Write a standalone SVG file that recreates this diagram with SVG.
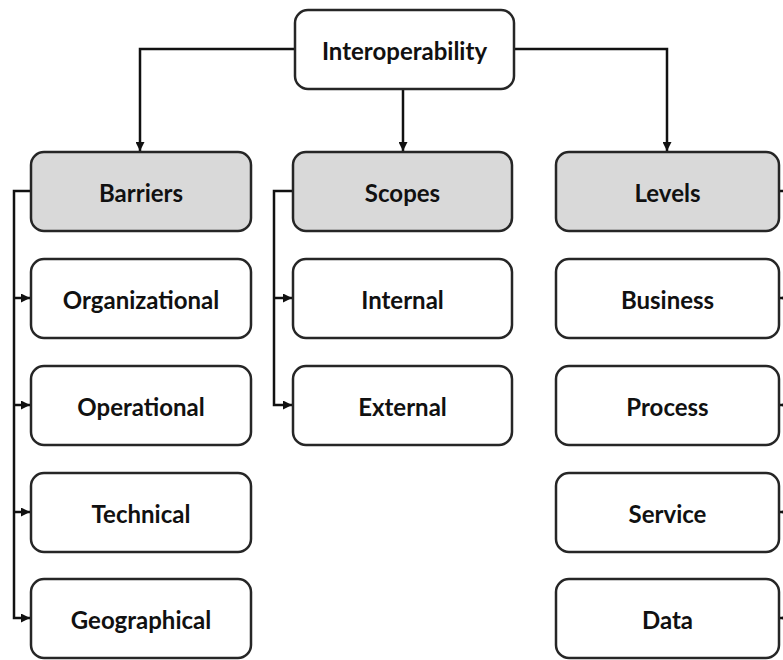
<svg xmlns="http://www.w3.org/2000/svg" width="783" height="660" viewBox="0 0 783 660">
<defs>
<marker id="arr" viewBox="0 0 10 10" refX="10" refY="5" markerWidth="9" markerHeight="9" markerUnits="userSpaceOnUse" orient="auto">
<path d="M0,0 L10,5 L0,10 Z" fill="#111"/>
</marker>
<style>
.box{fill:#fff;stroke:#262626;stroke-width:2.5}
.hd{fill:#d9d9d9;stroke:#262626;stroke-width:2.5}
.t{font-family:Lato,"Open Sans",sans-serif;font-weight:bold;font-size:24px;fill:#111;text-anchor:middle;dominant-baseline:central}
.c{fill:none;stroke:#111;stroke-width:2.5}
</style>
</defs>
<rect width="783" height="660" fill="#fff"/>
<g id="connectors">
<path class="c" d="M295,49 H140 V151" marker-end="url(#arr)"/>
<path class="c" d="M514,49 H667 V151" marker-end="url(#arr)"/>
<path class="c" d="M403,89 V151" marker-end="url(#arr)"/>
<path class="c" d="M31,191 H14 V618 H30" marker-end="url(#arr)"/>
<path class="c" d="M14,298 H30" marker-end="url(#arr)"/>
<path class="c" d="M14,405 H30" marker-end="url(#arr)"/>
<path class="c" d="M14,512 H30" marker-end="url(#arr)"/>
<path class="c" d="M293,191 H274 V405 H292" marker-end="url(#arr)"/>
<path class="c" d="M274,298 H292" marker-end="url(#arr)"/>
<path class="c" d="M779,191 H795 V618 H780" marker-end="url(#arr)"/>
<path class="c" d="M795,298 H780" marker-end="url(#arr)"/>
<path class="c" d="M795,405 H780" marker-end="url(#arr)"/>
<path class="c" d="M795,512 H780" marker-end="url(#arr)"/>
</g>
<g id="interoperability"><rect class="box" x="295" y="10" width="219" height="79" rx="13"/><text class="t" x="404.5" y="50">Interoperability</text></g>
<g id="barriers"><rect class="hd" x="31" y="152" width="220" height="79" rx="13"/><text class="t" x="141" y="192">Barriers</text></g>
<g id="scopes"><rect class="hd" x="293" y="152" width="219" height="79" rx="13"/><text class="t" x="402.5" y="192">Scopes</text></g>
<g id="levels"><rect class="hd" x="556" y="152" width="223" height="79" rx="13"/><text class="t" x="667.5" y="192">Levels</text></g>
<g id="organizational"><rect class="box" x="31" y="259" width="220" height="79" rx="13"/><text class="t" x="141" y="299">Organizational</text></g>
<g id="operational"><rect class="box" x="31" y="366" width="220" height="79" rx="13"/><text class="t" x="141" y="406">Operational</text></g>
<g id="technical"><rect class="box" x="31" y="473" width="220" height="79" rx="13"/><text class="t" x="141" y="513">Technical</text></g>
<g id="geographical"><rect class="box" x="31" y="579" width="220" height="79" rx="13"/><text class="t" x="141" y="619">Geographical</text></g>
<g id="internal"><rect class="box" x="293" y="259" width="219" height="79" rx="13"/><text class="t" x="402.5" y="299">Internal</text></g>
<g id="external"><rect class="box" x="293" y="366" width="219" height="79" rx="13"/><text class="t" x="402.5" y="406">External</text></g>
<g id="business"><rect class="box" x="556" y="259" width="223" height="79" rx="13"/><text class="t" x="667.5" y="299">Business</text></g>
<g id="process"><rect class="box" x="556" y="366" width="223" height="79" rx="13"/><text class="t" x="667.5" y="406">Process</text></g>
<g id="service"><rect class="box" x="556" y="473" width="223" height="79" rx="13"/><text class="t" x="667.5" y="513">Service</text></g>
<g id="data"><rect class="box" x="556" y="579" width="223" height="79" rx="13"/><text class="t" x="667.5" y="619">Data</text></g>
</svg>
